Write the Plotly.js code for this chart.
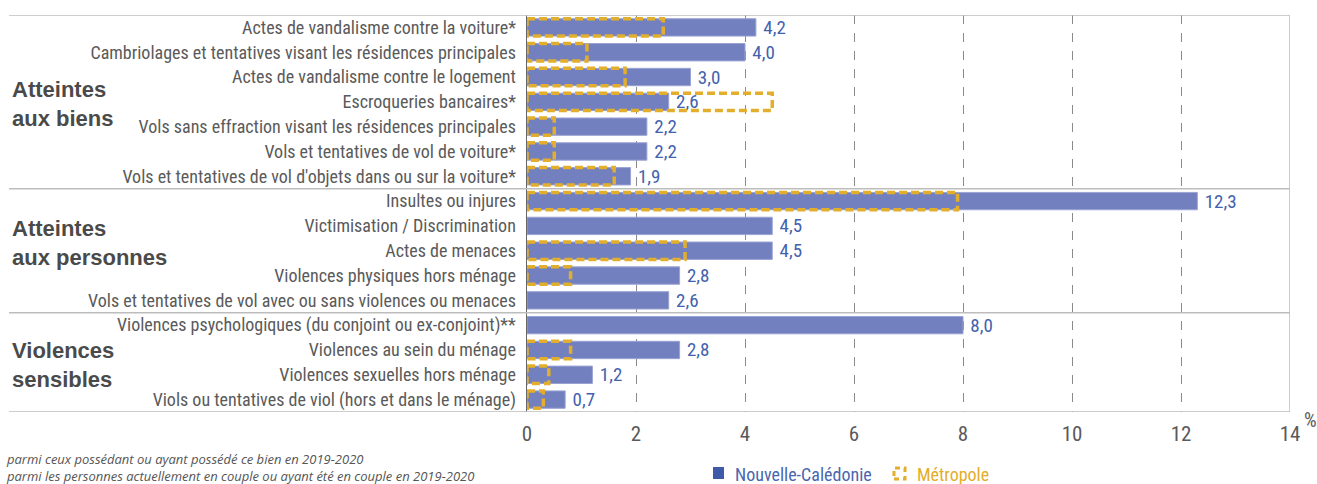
<!DOCTYPE html>
<html>
<head>
<meta charset="utf-8">
<script src="https://cdn.plot.ly/plotly-3.0.1.min.js"></script>
<style>html,body{margin:0;padding:0;background:#fff;}#chart{width:1317px;height:484px;}</style>
</head>
<body>
<div id="chart"></div>
<script>
// ---- data ----
const categories = [
  "Actes de vandalisme contre la voiture*",
  "Cambriolages et tentatives visant les résidences principales",
  "Actes de vandalisme contre le logement",
  "Escroqueries bancaires*",
  "Vols sans effraction visant les résidences principales",
  "Vols et tentatives de vol de voiture*",
  "Vols et tentatives de vol d'objets dans ou sur la voiture*",
  "Insultes ou injures",
  "Victimisation / Discrimination",
  "Actes de menaces",
  "Violences physiques hors ménage",
  "Vols et tentatives de vol avec ou sans violences ou menaces",
  "Violences psychologiques (du conjoint ou ex-conjoint)**",
  "Violences au sein du ménage",
  "Violences sexuelles hors ménage",
  "Viols ou tentatives de viol (hors et dans le ménage)"
];
const nouvelleCaledonie = [4.2, 4.0, 3.0, 2.6, 2.2, 2.2, 1.9, 12.3, 4.5, 4.5, 2.8, 2.6, 8.0, 2.8, 1.2, 0.7];
const metropole = [2.5, 1.1, 1.8, 4.5, 0.5, 0.5, 1.6, 7.9, null, 2.9, 0.8, null, null, 0.8, 0.4, 0.3];
const groupLabels = ["Atteintes<br>aux biens", "Atteintes<br>aux personnes", "Violences<br>sensibles"];
const groupBoundaries = [6.5, 11.5];
const xTicks = [0, 2, 4, 6, 8, 10, 12, 14];
const seriesNames = ["Nouvelle-Calédonie", "Métropole"];
const footnotes = [
  "parmi ceux possédant ou ayant possédé ce bien en 2019-2020",
  "parmi les personnes actuellement en couple ou ayant été en couple en 2019-2020"
];

// ---- layout helpers (pixel -> paper) ----
const W = 1317, H = 484;
const M = {l: 527, r: 27, t: 15, b: 72};
const PW = W - M.l - M.r, PH = H - M.t - M.b;
const px = x => (x - M.l) / PW;
const py = y => (H - M.b - y) / PH;

const idx = categories.map((_, i) => i);
const half = 0.35;

// dashed outline rectangles for Métropole built from the data
const mx = [], my = [];
metropole.forEach((v, i) => {
  if (v === null) return;
  mx.push(0, v, v, 0, 0, null);
  my.push(i - half, i - half, i + half, i + half, i - half, null);
});

const NARROW = "'Liberation Sans Narrow', 'Arial Narrow', 'Roboto Condensed', 'DejaVu Sans Condensed', sans-serif";
const BLUE = "#7380BF";
const LABEL_BLUE = "#4361AE";
const GOLD = "#E3AE2B";
const GRAY_TXT = "#5a5a5a";

const traces = [
  {
    type: "bar", orientation: "h", name: seriesNames[0],
    x: nouvelleCaledonie, y: idx, width: 0.7,
    marker: {color: BLUE, line: {color: "#9aa3d3", width: 1}},
    texttemplate: " %{x:.1f}", textposition: "outside", cliponaxis: false,
    constraintext: "none",
    textfont: {family: NARROW, size: 19, color: LABEL_BLUE},
    showlegend: false, hoverinfo: "x+y"
  },
  {
    type: "scatter", mode: "lines", name: seriesNames[1],
    x: mx, y: my, connectgaps: false,
    line: {color: GOLD, width: 3.5, dash: "8px,4px"},
    showlegend: false, hoverinfo: "skip"
  }
];

const shapes = [];
// top line and group separators extending into label area
[-0.5, ...groupBoundaries, 15.5].forEach(b => {
  shapes.push({type: "line", xref: "paper", yref: "y", x0: px(9), x1: 1, y0: b, y1: b,
    line: {color: "#bdbdbd", width: 1.5}, layer: "above"});
});
// right border
shapes.push({type: "line", xref: "x", yref: "paper", x0: 14, x1: 14, y0: 0, y1: 1,
  line: {color: "#bdbdbd", width: 1.5}});
// legend icons
shapes.push({type: "rect", xref: "paper", yref: "paper", x0: px(713), x1: px(724), y0: py(479), y1: py(467),
  fillcolor: "#3F5AA8", line: {width: 0}});
shapes.push({type: "rect", xref: "paper", yref: "paper", x0: px(894), x1: px(905), y0: py(479), y1: py(468),
  fillcolor: "rgba(0,0,0,0)", line: {color: GOLD, width: 3, dash: "5px,4px"}});

const annotations = [];
const groupCenters = [104, 243, 365];
groupLabels.forEach((t, i) => {
  annotations.push({xref: "paper", yref: "paper", x: px(10), y: py(groupCenters[i]), xanchor: "left", yanchor: "middle",
    text: t, showarrow: false, align: "left",
    font: {family: "'Liberation Sans', Arial, sans-serif", size: 22, color: "#4a4a4a", weight: "bold"}});
});
annotations.push({xref: "paper", yref: "paper", x: px(1302), y: py(420), xanchor: "left", yanchor: "middle",
  text: "%", showarrow: false, font: {family: NARROW, size: 20, color: GRAY_TXT}});
annotations.push({xref: "paper", yref: "paper", x: px(733), y: py(474), xanchor: "left", yanchor: "middle",
  text: seriesNames[0], showarrow: false, font: {family: NARROW, size: 18, color: "#4A66AF"}});
annotations.push({xref: "paper", yref: "paper", x: px(915), y: py(474), xanchor: "left", yanchor: "middle",
  text: seriesNames[1], showarrow: false, font: {family: NARROW, size: 18, color: GOLD}});
footnotes.forEach((t, i) => {
  annotations.push({xref: "paper", yref: "paper", x: px(4), y: py(459 + i * 17), xanchor: "left", yanchor: "middle",
    text: t, showarrow: false, font: {family: "'Open Sans', 'Noto Sans', sans-serif", size: 13, color: "#555", style: "italic"}});
});

const layout = {
  width: W, height: H,
  margin: {l: M.l, r: M.r, t: M.t, b: M.b, pad: 0},
  paper_bgcolor: "#fff", plot_bgcolor: "#fff",
  separators: ", ",
  showlegend: false,
  xaxis: {
    range: [0, 14], tickvals: xTicks, ticktext: xTicks.map(String),
    showgrid: true, gridcolor: "#8a8a8a", griddash: "dash", gridwidth: 1,
    zeroline: false, showline: false, ticks: "",
    tickfont: {family: NARROW, size: 21, color: GRAY_TXT},
    ticklabelstandoff: 7
  },
  yaxis: {
    range: [15.5, -0.5], tickvals: idx, ticktext: categories,
    showgrid: false, zeroline: false,
    showline: true, linecolor: "#666", linewidth: 1.5,
    ticks: "", ticklabelstandoff: 6,
    tickfont: {family: NARROW, size: 18, color: GRAY_TXT}
  },
  shapes: shapes,
  annotations: annotations
};

Plotly.newPlot("chart", traces, layout, {displayModeBar: false, staticPlot: true});
</script>
</body>
</html>
